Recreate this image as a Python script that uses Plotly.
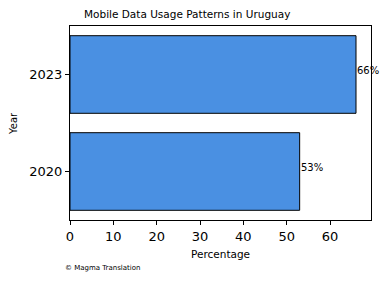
import plotly.graph_objects as go

years = ["2020", "2023"]
percentages = [53, 66]
labels = ["53%", "66%"]

FONT = "DejaVu Sans"

fig = go.Figure()
fig.add_trace(go.Bar(
    x=percentages, y=years, orientation="h",
    marker=dict(color="#4a90e2", line=dict(color="black", width=1)),
    width=0.8, hoverinfo="skip",
))

for i, (v, t) in enumerate(zip(percentages, labels)):
    fig.add_annotation(x=v, y=i, text=t, xref="x", yref="y", showarrow=False,
                       xanchor="left", yanchor="middle", yshift=4, xshift=-1,
                       font=dict(family=FONT, size=10, color="black"))

PW, PH = 301, 194
fig.add_annotation(text="Mobile Data Usage Patterns in Uruguay", xref="paper", yref="paper",
                   x=(82 - 70) / PW, y=1 + (26 - 14) / PH, xanchor="left", yanchor="middle",
                   showarrow=False, font=dict(family=FONT, size=10.5, color="black"))
fig.add_annotation(text="© Magma Translation", xref="paper", yref="paper",
                   x=(63 - 70) / PW, y=-(268 - 220) / PH, xanchor="left", yanchor="middle",
                   showarrow=False, font=dict(family=FONT, size=7, color="black"))
fig.add_annotation(text="Percentage", xref="paper", yref="paper",
                   x=(220 - 70) / PW, y=-(254 - 220) / PH, xanchor="center", yanchor="middle",
                   showarrow=False, font=dict(family=FONT, size=10.5, color="black"))
fig.add_annotation(text="Year", xref="paper", yref="paper", textangle=-90,
                   x=-(70 - 13) / PW, y=(220 - 124) / PH, xanchor="center", yanchor="middle",
                   showarrow=False, font=dict(family=FONT, size=10, color="black"))

fig.update_layout(
    width=390, height=282,
    margin=dict(l=70, r=19, t=26, b=62, autoexpand=False),
    paper_bgcolor="white", plot_bgcolor="white",
    showlegend=False,
    font=dict(family=FONT, color="black"),
    xaxis=dict(range=[0, 69.46], tickvals=[0, 10, 20, 30, 40, 50, 60], automargin=False,
               ticks="outside", ticklen=4, tickcolor="black", tickwidth=1,
               showline=True, linecolor="black", linewidth=1, mirror=True,
               showgrid=False, zeroline=False,
               tickfont=dict(family=FONT, size=13, color="black")),
    yaxis=dict(type="category", categoryorder="array", categoryarray=years, range=[-0.5, 1.5],
               automargin=False,
               ticks="outside", ticklen=4, tickcolor="black", tickwidth=1,
               showline=True, linecolor="black", linewidth=1, mirror=True,
               showgrid=False, zeroline=False,
               tickfont=dict(family=FONT, size=13, color="black")),
)

fig.write_html("out.html")
